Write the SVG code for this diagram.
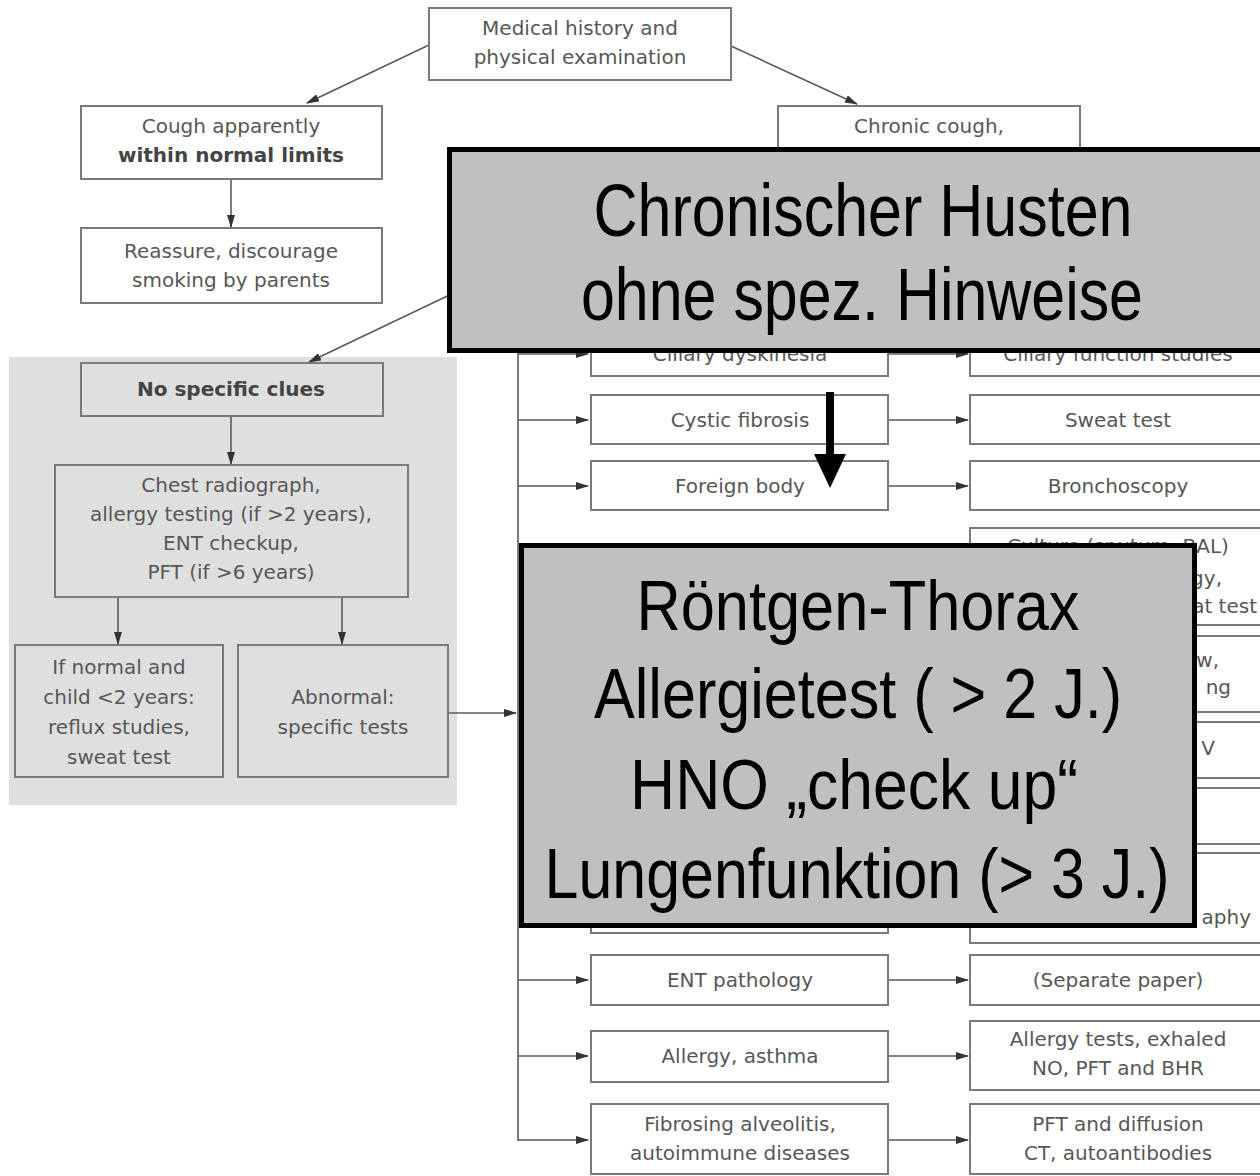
<svg xmlns="http://www.w3.org/2000/svg" width="1260" height="1176" viewBox="0 0 1260 1176">
<defs>
<style>
.bx{fill:none;stroke:#7a7a7a;stroke-width:2}
.t{font-family:"DejaVu Sans","Liberation Sans",sans-serif;font-size:20px;fill:#575757;text-anchor:middle}
.t.e{text-anchor:end}
.b{font-weight:bold;fill:#444}
.ln{stroke:#5a5a5a;stroke-width:1.6;fill:none}
.ov{fill:#c0c0c0;stroke:#000;stroke-width:5}
.big{font-family:"Liberation Sans Narrow","Liberation Sans",Arial,sans-serif;fill:#000;text-anchor:middle}
</style>
<marker id="ah" markerWidth="13" markerHeight="8" refX="12" refY="4" orient="auto" markerUnits="userSpaceOnUse">
<path d="M0,0 L13,4 L0,8 z" fill="#333"/>
</marker>
</defs>
<rect width="1260" height="1176" fill="#fff"/>
<rect id="panel" x="9" y="357" width="448" height="448" fill="#dfdfdf"/>

<g id="connectors">
<line class="ln" x1="429" y1="45" x2="307" y2="103" marker-end="url(#ah)"/>
<line class="ln" x1="731" y1="46" x2="857" y2="104" marker-end="url(#ah)"/>
<line class="ln" x1="231" y1="179" x2="231" y2="227" marker-end="url(#ah)"/>
<line class="ln" x1="460" y1="290" x2="309" y2="362" marker-end="url(#ah)"/>
<line class="ln" x1="231" y1="416" x2="231" y2="464" marker-end="url(#ah)"/>
<line class="ln" x1="118" y1="597" x2="118" y2="644" marker-end="url(#ah)"/>
<line class="ln" x1="342" y1="597" x2="342" y2="644" marker-end="url(#ah)"/>
<line class="ln" x1="448" y1="713" x2="516" y2="713" marker-end="url(#ah)"/>
<line class="ln" x1="518" y1="330" x2="518" y2="1141"/>
<line class="ln" x1="518" y1="354" x2="588" y2="354" marker-end="url(#ah)"/>
<line class="ln" x1="888" y1="354" x2="968" y2="354" marker-end="url(#ah)"/>
<line class="ln" x1="518" y1="420" x2="588" y2="420" marker-end="url(#ah)"/>
<line class="ln" x1="888" y1="420" x2="968" y2="420" marker-end="url(#ah)"/>
<line class="ln" x1="518" y1="486" x2="588" y2="486" marker-end="url(#ah)"/>
<line class="ln" x1="888" y1="486" x2="968" y2="486" marker-end="url(#ah)"/>
<line class="ln" x1="518" y1="980" x2="588" y2="980" marker-end="url(#ah)"/>
<line class="ln" x1="888" y1="980" x2="968" y2="980" marker-end="url(#ah)"/>
<line class="ln" x1="518" y1="1056" x2="588" y2="1056" marker-end="url(#ah)"/>
<line class="ln" x1="888" y1="1056" x2="968" y2="1056" marker-end="url(#ah)"/>
<line class="ln" x1="518" y1="1140" x2="588" y2="1140" marker-end="url(#ah)"/>
<line class="ln" x1="888" y1="1140" x2="968" y2="1140" marker-end="url(#ah)"/>
</g>

<g id="n-medical"><rect class="bx" x="429" y="8" width="302" height="72"/>
<text class="t" x="580" y="35">Medical history and</text><text class="t" x="580" y="64">physical examination</text></g>
<g id="n-cough"><rect class="bx" x="81" y="106" width="301" height="73"/>
<text class="t" x="231" y="133">Cough apparently</text><text class="t b" x="231" y="162">within normal limits</text></g>
<g id="n-reassure"><rect class="bx" x="81" y="228" width="301" height="75"/>
<text class="t" x="231" y="258">Reassure, discourage</text><text class="t" x="231" y="287">smoking by parents</text></g>
<g id="n-chronic"><rect class="bx" x="778" y="106" width="302" height="80"/>
<text class="t" x="929" y="133">Chronic cough,</text></g>
<g id="n-noclues"><rect class="bx" x="81" y="363" width="302" height="53"/>
<text class="t b" x="231" y="396">No specific clues</text></g>
<g id="n-chest"><rect class="bx" x="55" y="465" width="353" height="132"/>
<text class="t" x="231" y="492">Chest radiograph,</text><text class="t" x="231" y="521">allergy testing (if &gt;2 years),</text>
<text class="t" x="231" y="550">ENT checkup,</text><text class="t" x="231" y="579">PFT (if &gt;6 years)</text></g>
<g id="n-ifnormal"><rect class="bx" x="15" y="645" width="208" height="132"/>
<text class="t" x="119" y="674">If normal and</text><text class="t" x="119" y="704">child &lt;2 years:</text>
<text class="t" x="119" y="734">reflux studies,</text><text class="t" x="119" y="764">sweat test</text></g>
<g id="n-abnormal"><rect class="bx" x="238" y="645" width="210" height="132"/>
<text class="t" x="343" y="704">Abnormal:</text><text class="t" x="343" y="734">specific tests</text></g>

<g id="n-ciliary"><rect class="bx" x="591" y="330" width="297" height="46"/><text class="t" x="740" y="361">Ciliary dyskinesia</text></g>
<g id="n-ciliaryf"><rect class="bx" x="970" y="330" width="300" height="46"/><text class="t" x="1118" y="361">Ciliary function studies</text></g>
<g id="n-cf"><rect class="bx" x="591" y="395" width="297" height="49"/><text class="t" x="740" y="427">Cystic fibrosis</text></g>
<g id="n-sweat"><rect class="bx" x="970" y="395" width="300" height="49"/><text class="t" x="1118" y="427">Sweat test</text></g>
<g id="n-fb"><rect class="bx" x="591" y="461" width="297" height="49"/><text class="t" x="740" y="493">Foreign body</text></g>
<g id="n-bronch"><rect class="bx" x="970" y="461" width="300" height="49"/><text class="t" x="1118" y="493">Bronchoscopy</text></g>
<g id="n-culture"><rect class="bx" x="970" y="528" width="300" height="97"/>
<text class="t" x="1118" y="553">Culture (sputum, BAL)</text>
<text class="t e" x="1222" y="585">gy,</text><text class="t e" x="1257" y="613">at test</text></g>
<g id="n-r2"><rect class="bx" x="970" y="636" width="300" height="76"/>
<text class="t e" x="1219" y="667">w,</text><text class="t e" x="1231" y="694">ng</text></g>
<g id="n-r3"><rect class="bx" x="970" y="722" width="300" height="56"/>
<text class="t e" x="1215" y="755">V</text></g>
<g id="n-r4"><rect class="bx" x="970" y="788" width="300" height="56"/></g>
<g id="n-r5l"><rect class="bx" x="591" y="860" width="297" height="73"/></g>
<g id="n-r5"><rect class="bx" x="970" y="853" width="300" height="90"/>
<text class="t e" x="1251" y="924">aphy</text></g>
<g id="n-ent"><rect class="bx" x="591" y="955" width="297" height="50"/><text class="t" x="740" y="987">ENT pathology</text></g>
<g id="n-sep"><rect class="bx" x="970" y="955" width="300" height="50"/><text class="t" x="1118" y="987">(Separate paper)</text></g>
<g id="n-allergy"><rect class="bx" x="591" y="1031" width="297" height="51"/><text class="t" x="740" y="1063">Allergy, asthma</text></g>
<g id="n-alltests"><rect class="bx" x="970" y="1021" width="300" height="69"/>
<text class="t" x="1118" y="1046">Allergy tests, exhaled</text><text class="t" x="1118" y="1075">NO, PFT and BHR</text></g>
<g id="n-fibro"><rect class="bx" x="591" y="1104" width="297" height="70"/>
<text class="t" x="740" y="1131">Fibrosing alveolitis,</text><text class="t" x="740" y="1160">autoimmune diseases</text></g>
<g id="n-pft"><rect class="bx" x="970" y="1104" width="300" height="70"/>
<text class="t" x="1118" y="1131">PFT and diffusion</text><text class="t" x="1118" y="1160">CT, autoantibodies</text></g>

<g id="overlay1"><rect class="ov" x="449.5" y="149.5" width="830" height="201"/>
<text class="big" x="863" y="236" font-size="74" textLength="539" lengthAdjust="spacingAndGlyphs">Chronischer Husten</text>
<text class="big" x="862" y="320" font-size="74" textLength="562" lengthAdjust="spacingAndGlyphs">ohne spez. Hinweise</text></g>

<g id="bigarrow"><rect x="826" y="392" width="8" height="64" fill="#000"/><path d="M814,454 L846,454 L830,488 z" fill="#000"/></g>

<g id="overlay2"><rect class="ov" x="521.5" y="545.5" width="673" height="380"/>
<text class="big" x="858" y="630" font-size="70" textLength="443" lengthAdjust="spacingAndGlyphs">Röntgen-Thorax</text>
<text class="big" x="858" y="718" font-size="70" textLength="528" lengthAdjust="spacingAndGlyphs">Allergietest ( &gt; 2 J.)</text>
<text class="big" x="854" y="809" font-size="70" textLength="448" lengthAdjust="spacingAndGlyphs">HNO „check up“</text>
<text class="big" x="857" y="898" font-size="70" textLength="625" lengthAdjust="spacingAndGlyphs">Lungenfunktion (&gt; 3 J.)</text></g>
</svg>
